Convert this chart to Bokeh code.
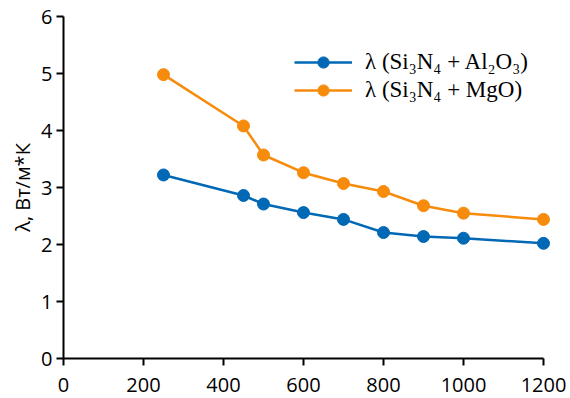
from bokeh.plotting import figure
from bokeh.models import Range1d, Legend, LegendItem, FixedTicker
from bokeh.embed import file_html
from bokeh.resources import INLINE

# Data
temperature = [250, 450, 500, 600, 700, 800, 900, 1000, 1200]
lambda_al2o3 = [3.22, 2.86, 2.71, 2.56, 2.44, 2.21, 2.14, 2.11, 2.02]
lambda_mgo = [4.98, 4.08, 3.57, 3.26, 3.07, 2.93, 2.68, 2.55, 2.44]
x_ticks = [0, 200, 400, 600, 800, 1000, 1200]
y_ticks = [0, 1, 2, 3, 4, 5, 6]
label_al2o3 = "λ (Si₃N₄ + Al₂O₃)"
label_mgo = "λ (Si₃N₄ + MgO)"

BLUE = "#0068b5"
ORANGE = "#f68b0c"

p = figure(width=570, height=396, output_backend="svg", toolbar_location=None,
           x_range=Range1d(0, 1225), y_range=Range1d(0, 6),
           min_border_left=63, min_border_right=17, min_border_top=16, min_border_bottom=38)
p.outline_line_color = None
p.grid.visible = False
p.background_fill_color = "white"

l1 = p.line(temperature, lambda_al2o3, line_color=BLUE, line_width=2.5)
c1 = p.scatter(temperature, lambda_al2o3, marker="circle", size=12, fill_color=BLUE, line_color=BLUE)
l2 = p.line(temperature, lambda_mgo, line_color=ORANGE, line_width=2.5)
c2 = p.scatter(temperature, lambda_mgo, marker="circle", size=12, fill_color=ORANGE, line_color=ORANGE)

for ax in (p.xaxis[0], p.yaxis[0]):
    ax.axis_line_width = 2
    ax.axis_line_color = "black"
    ax.major_tick_line_width = 2
    ax.major_tick_line_color = "black"
    ax.major_tick_out = 7
    ax.major_tick_in = 0
    ax.minor_tick_out = 0
    ax.minor_tick_in = 0
    ax.major_label_text_font = "Open Sans"
    ax.major_label_text_font_size = "20px"
    ax.major_label_text_color = "black"

p.xaxis.ticker = FixedTicker(ticks=x_ticks)
p.yaxis.ticker = FixedTicker(ticks=y_ticks)
p.xaxis.bounds = (0, 1200)
p.xaxis.major_label_standoff = 12
p.yaxis.major_label_standoff = 4

p.yaxis.axis_label = "λ, Вт/м*К"
p.yaxis.axis_label_text_font = "Open Sans"
p.yaxis.axis_label_text_font_style = "normal"
p.yaxis.axis_label_text_font_size = "20px"
p.yaxis.axis_label_text_color = "black"
p.yaxis.axis_label_standoff = 2

legend = Legend(items=[LegendItem(label=label_al2o3, renderers=[l1, c1]),
                       LegendItem(label=label_mgo, renderers=[l2, c2])],
                location=(231, 254))
legend.border_line_color = None
legend.background_fill_alpha = 0
legend.padding = 0
legend.spacing = 0
legend.margin = 0
legend.glyph_width = 58
legend.glyph_height = 28
legend.label_height = 28
legend.label_standoff = 13
legend.label_text_font = "Liberation Serif"
legend.label_text_font_size = "23px"
legend.label_text_color = "black"
p.add_layout(legend, "center")

open("out.html", "w").write(file_html(p, INLINE))
